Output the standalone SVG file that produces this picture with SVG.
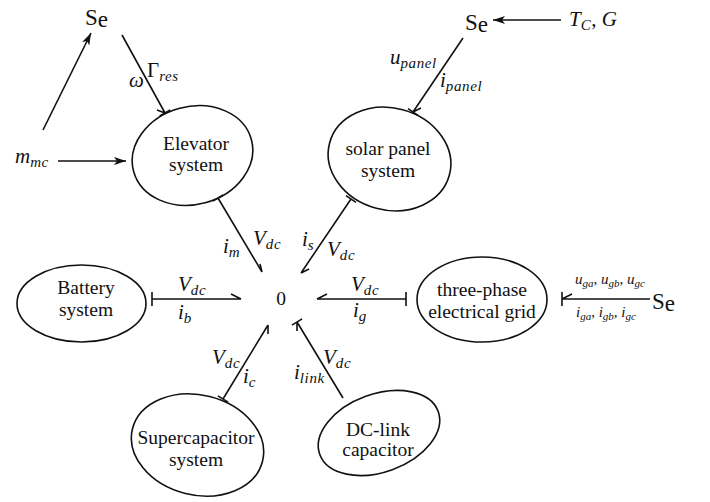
<svg xmlns="http://www.w3.org/2000/svg" width="710" height="502" viewBox="0 0 710 502">
<defs>
<style>
.shape{fill:none;stroke:#111;stroke-width:1.6}
.lbl{font-family:"Liberation Serif","Times New Roman","DejaVu Serif",serif;font-size:19.5px;text-anchor:middle;fill:#111}
.se{font-family:"Liberation Serif","Times New Roman","DejaVu Serif",serif;font-size:23px;fill:#111}
.m{font-family:"Liberation Serif","Times New Roman","DejaVu Serif",serif;font-style:italic;font-size:21px;fill:#111}
.sub{font-size:15px;letter-spacing:0.6px}
.s{font-size:15px}
.sub2{font-size:11px}
.bond{fill:none;stroke:#111;stroke-width:1.6}
.arrow{fill:none;stroke:#111;stroke-width:1.6;marker-end:url(#ah)}
</style>
<marker id="ah" viewBox="0 0 12 8" refX="12" refY="4" markerWidth="12" markerHeight="8" markerUnits="userSpaceOnUse" orient="auto">
<path d="M0,0 L12,4 L0,8 L3,4 z" fill="#111"/>
</marker>
</defs>
<rect width="710" height="502" fill="#fff"/>

<g id="n-se1"><text x="85" y="25" class="se">S<tspan dy="2">e</tspan></text></g>
<g id="n-se2"><text x="465" y="30" class="se">S<tspan dy="2">e</tspan></text></g>
<g id="n-se3"><text x="652" y="309" class="se">S<tspan dy="2">e</tspan></text></g>
<g id="n-mmc"><text x="15" y="163" class="m">m<tspan class="sub" dy="4">mc</tspan></text></g>
<g id="n-tcg"><text x="569" y="26" class="m">T<tspan class="sub" dy="4">C</tspan><tspan dy="-4">, G</tspan></text></g>

<g id="n-elevator">
<ellipse class="shape" cx="192.5" cy="155.5" rx="61" ry="49" transform="rotate(-15 192.5 155.5)"/>
<text x="196" y="150" class="lbl">Elevator</text>
<text x="196" y="171" class="lbl">system</text>
</g>
<g id="n-solar">
<ellipse class="shape" cx="389.5" cy="159" rx="62" ry="51" transform="rotate(15 389.5 159)"/>
<text x="388" y="155" class="lbl">solar panel</text>
<text x="388" y="177" class="lbl">system</text>
</g>
<g id="n-battery">
<ellipse class="shape" cx="81.5" cy="303.5" rx="64.5" ry="38.5"/>
<text x="86" y="294" class="lbl">Battery</text>
<text x="86" y="316" class="lbl">system</text>
</g>
<g id="n-zero"><text x="281" y="305" class="lbl">0</text></g>
<g id="n-grid">
<ellipse class="shape" cx="482" cy="299.5" rx="65" ry="42.5"/>
<text x="482" y="296" class="lbl">three-phase</text>
<text x="482" y="318" class="lbl">electrical grid</text>
</g>
<g id="n-supercap">
<ellipse class="shape" cx="197.5" cy="445" rx="67" ry="50" transform="rotate(14 197.5 445)"/>
<text x="196" y="444" class="lbl">Supercapacitor</text>
<text x="196" y="466" class="lbl">system</text>
</g>
<g id="n-dclink">
<ellipse class="shape" cx="379" cy="433" rx="63" ry="39" transform="rotate(-20 379 433)"/>
<text x="378" y="436" class="lbl">DC-link</text>
<text x="378" y="456" class="lbl">capacitor</text>
</g>

<g id="connectors">
<path class="arrow" d="M43,130 L91,33"/>
<path class="arrow" d="M58,161 L126,161"/>
<path class="arrow" d="M561,20 L493,20"/>
<path class="bond" d="M122,35 L165,113 M157,110 L165,113 M159.7,116 L170.3,110"/>
<path class="bond" d="M218,198 L262,272 M260,264 L262,272 M212.8,201.1 L223.2,194.9"/>
<path class="bond" d="M463,38 L413,112 M421,108 L413,112 M408,108.6 L418,115.4"/>
<path class="bond" d="M351,199 L301,273 M309,269 L301,273 M346,195.6 L356,202.4"/>
<path class="bond" d="M152,299 L241,299 M231,294 L241,299 M152,292 L152,306"/>
<path class="bond" d="M406,299 L317,299 M327,294 L317,299 M406,292 L406,306"/>
<path class="bond" d="M223,399 L268,325 M268,334 L268,325 M217.9,395.9 L228.1,402.1"/>
<path class="bond" d="M343,398 L297,322 M297,331 L297,322 M291.9,325.1 L302.1,318.9"/>
<path class="bond" d="M650,299 L562,299 M572,294 L562,299 M562,292 L562,306"/>
</g>

<g id="bond-labels">
<text x="147" y="77" class="m"><tspan font-style="normal">Γ</tspan><tspan class="sub" dy="4">res</tspan></text>
<text x="129" y="87" class="m">ω</text>
<text x="390" y="64" class="m">u<tspan class="sub" dy="4">panel</tspan></text>
<text x="440" y="87" class="m">i<tspan class="sub" dy="4">panel</tspan></text>
<text x="223" y="253" class="m">i<tspan class="sub" dy="4">m</tspan></text>
<text x="253" y="245" class="m">V<tspan class="sub" dy="4">dc</tspan></text>
<text x="302" y="246" class="m">i<tspan class="sub" dy="4">s</tspan></text>
<text x="327" y="256" class="m">V<tspan class="sub" dy="4">dc</tspan></text>
<text x="178" y="291" class="m">V<tspan class="sub" dy="4">dc</tspan></text>
<text x="178" y="319" class="m">i<tspan class="sub" dy="4">b</tspan></text>
<text x="351" y="291" class="m">V<tspan class="sub" dy="4">dc</tspan></text>
<text x="353" y="317" class="m">i<tspan class="sub" dy="4">g</tspan></text>
<text x="212" y="364" class="m">V<tspan class="sub" dy="4">dc</tspan></text>
<text x="243" y="383" class="m">i<tspan class="sub" dy="4">c</tspan></text>
<text x="323" y="364" class="m">V<tspan class="sub" dy="4">dc</tspan></text>
<text x="294" y="379" class="m">i<tspan class="sub" dy="4">link</tspan></text>
<text x="575" y="284" class="m s">u<tspan class="sub2" dy="3">ga</tspan><tspan dy="-3">, u</tspan><tspan class="sub2" dy="3">gb</tspan><tspan dy="-3">, u</tspan><tspan class="sub2" dy="3">gc</tspan></text>
<text x="576" y="317" class="m s">i<tspan class="sub2" dy="3">ga</tspan><tspan dy="-3">, i</tspan><tspan class="sub2" dy="3">gb</tspan><tspan dy="-3">, i</tspan><tspan class="sub2" dy="3">gc</tspan></text>
</g>
</svg>
